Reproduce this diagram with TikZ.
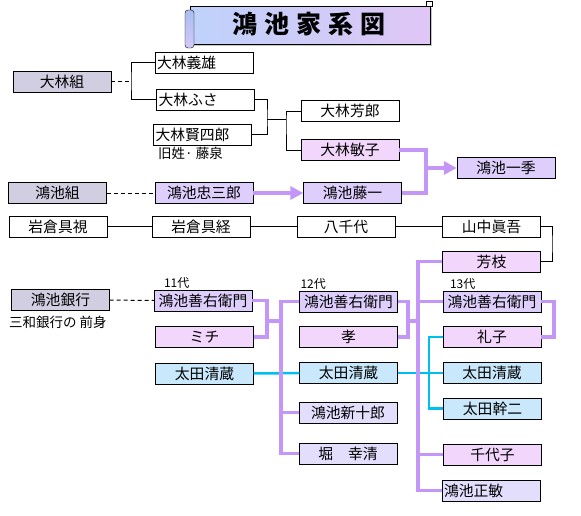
\documentclass[tikz,border=0pt]{standalone}
\usepackage{fontspec}
\setmainfont{Noto Sans CJK JP}
\usetikzlibrary{arrows.meta}

\definecolor{grayfill}{RGB}{210,206,226}
\definecolor{purplefill}{RGB}{222,206,252}
\definecolor{pinkfill}{RGB}{242,214,252}
\definecolor{bluefill}{RGB}{202,232,252}
\definecolor{lavfill}{RGB}{226,222,252}
\definecolor{famcolor}{RGB}{196,150,248}
\definecolor{bloodcolor}{RGB}{0,190,240}

\tikzset{
  person/.style={draw, fill=white, minimum width=98pt, minimum height=21pt, inner sep=0pt, font=\fontsize{14.8}{16}\selectfont},
  leftname/.style={text width=94pt, inner xsep=2pt, align=left},
  kumi/.style={person, fill=grayfill},
  honke/.style={person, fill=purplefill},
  yome/.style={person, fill=pinkfill},
  ota/.style={person, fill=bluefill},
  bunke/.style={person, fill=lavfill},
  famline/.style={draw=famcolor, line width=3.5pt},
  famarrow/.style={famline, -{Triangle[length=13pt,width=13pt]}},
  bloodline/.style={draw=bloodcolor, line width=2.5pt},
  tie/.style={draw, line width=1pt},
  dashtie/.style={draw, line width=1pt, dash pattern=on 4pt off 3pt},
  note/.style={inner sep=0pt, anchor=west, font=\fontsize{13.5}{15}\selectfont},
  gen/.style={inner sep=0pt, anchor=south west, font=\fontsize{12}{13}\selectfont}
}

\begin{document}
\begin{tikzpicture}[x=1pt,y=-1pt]
\useasboundingbox (0,0) rectangle (581,515);

% title scroll
\fill [gray!45] (192,8) rectangle (432,46);
\shade [left color={rgb,255:red,190;green,210;blue,250}, right color={rgb,255:red,224;green,198;blue,246}, draw=black] (190,6) rectangle (430,44);
\shade [top color={rgb,255:red,170;green,190;blue,240}, bottom color={rgb,255:red,210;green,200;blue,248}, draw=black, rounded corners=3pt] (185,10) rectangle (194,48);
\fill [white, draw=black] (426,1) rectangle (432,6);
\node (title) at (309,24) {\fontsize{25}{25}\selectfont\bfseries 鴻\kern7pt 池\kern7pt 家\kern7pt 系\kern7pt 図};

% Obayashi
\node [kumi] (obayashigumi) at (62,81.5) {大林組};
\node [person,leftname] (yoshio) at (204,62.5) {大林義雄};
\node [person,leftname] (fusa) at (205.5,99.5) {大林ふさ};
\node [person,leftname] (kenshiro) at (202.5,134.5) {大林賢四郎};
\node [note] (kyusei) at (158,153) {旧姓· 藤泉};
\node [person] (yoshiro) at (350,111) {大林芳郎};
\node [yome] (toshiko) at (350,150) {大林敏子};

% Konoike gumi
\node [kumi] (konoikegumi) at (57.5,193) {鴻池組};
\node [honke] (chuzaburo) at (204,193) {鴻池忠三郎};
\node [honke] (toichi) at (352.5,193) {鴻池藤一};
\node [honke] (ikki) at (506,168) {鴻池一季};

% Iwakura
\node [person] (tomomi) at (58,226.5) {岩倉具視};
\node [person] (tomotsune) at (201,226.5) {岩倉具経};
\node [person] (yachiyo) at (346,226.5) {八千代};
\node [person] (shingo) at (491.5,226.5) {山中眞吾};
\node [yome] (yoshie) at (491.5,261.5) {芳枝};

% Konoike bank
\node [kumi] (ginko) at (60.5,300) {鴻池銀行};
\node [note] (zenshin) at (9,322) {三和銀行の 前身};
\node [honke] (zenemon11) at (203,300.5) {鴻池善右衛門};
\node [gen] at (zenemon11.north west) [xshift=10pt,yshift=1pt] {11代};
\node [yome] (michi) at (204.5,337) {ミチ};
\node [ota] (seizo1) at (204.5,373.5) {太田清蔵};

\node [honke] (zenemon12) at (348.5,301.5) {鴻池善右衛門};
\node [gen] at (zenemon12.north west) [xshift=1pt,yshift=1pt] {12代};
\node [yome] (takashi) at (348.5,337) {孝};
\node [ota] (seizo2) at (348.5,373) {太田清蔵};
\node [bunke] (shinjuro) at (348,412.5) {鴻池新十郎};
\node [bunke] (hori) at (348,453.5) {堀　幸清};

\node [honke] (zenemon13) at (492,301.5) {鴻池善右衛門};
\node [gen] at (zenemon13.north west) [xshift=7pt,yshift=1pt] {13代};
\node [yome] (reiko) at (492,337) {礼子};
\node [ota] (seizo3) at (492,373) {太田清蔵};
\node [ota] (kanji) at (492.5,408.5) {太田幹二};
\node [yome] (chiyoko) at (492.5,454.5) {千代子};
\node [bunke,leftname] (masatoshi) at (491,490.5) {鴻池正敏};

% junctions
\coordinate (j1) at (131,81.5);
\coordinate (j2) at (267,119);
\coordinate (j3) at (286,119);
\coordinate (j4) at (426,168);
\coordinate (j5) at (552,244);
\coordinate (j6) at (267,321);
\coordinate (j7) at (281,321);
\coordinate (j8) at (408,321);
\coordinate (j9) at (418,321);
\coordinate (j10) at (554,319);
\coordinate (j11) at (429,373);

% black ties
\draw [dashtie] (obayashigumi) -- (j1);
\draw [tie] (yoshio.west) -| (j1) |- (fusa.west);
\draw [tie] (fusa.east) -| (j2) |- (kenshiro.east);
\draw [tie] (j2) -- (j3);
\draw [tie] (yoshiro.west) -| (j3) |- (toshiko.west);
\draw [dashtie] (konoikegumi) -- (chuzaburo);
\draw [tie] (tomomi) -- (tomotsune);
\draw [tie] (tomotsune) -- (yachiyo);
\draw [tie] (yachiyo) -- (shingo);
\draw [tie] (shingo.east) -| (j5) |- (yoshie.east);
\draw [dashtie] (ginko) -- (zenemon11);

% Ota lines
\draw [bloodline] (seizo1) -- (seizo2);
\draw [bloodline] (seizo2) -- (seizo3);
\draw [bloodline] (reiko.west) -| (j11) |- (kanji.west);

% Konoike lines
\draw [famarrow] (chuzaburo) -- (toichi);
\draw [famline] (toshiko.east) -| (j4) |- (toichi.east);
\draw [famarrow] (j4) -- (ikki.west);
\draw [famline] (zenemon11.east) -| (j6) |- (michi.east);
\draw [famline] (j6) -- (j7);
\draw [famline] (zenemon12.west) -| (j7) |- (hori.west);
\draw [famline] (j7) |- (shinjuro.west);
\draw [famline] (zenemon12.east) -| (j8) |- (takashi.east);
\draw [famline] (j8) -- (j9);
\draw [famline] (yoshie.west) -| (j9) |- (masatoshi.west);
\draw [famline] (j9) |- (zenemon13.west);
\draw [famline] (j9) |- (chiyoko.west);
\draw [famline] (zenemon13.east) -| (j10) |- (reiko.east);

\end{tikzpicture}
\end{document}
